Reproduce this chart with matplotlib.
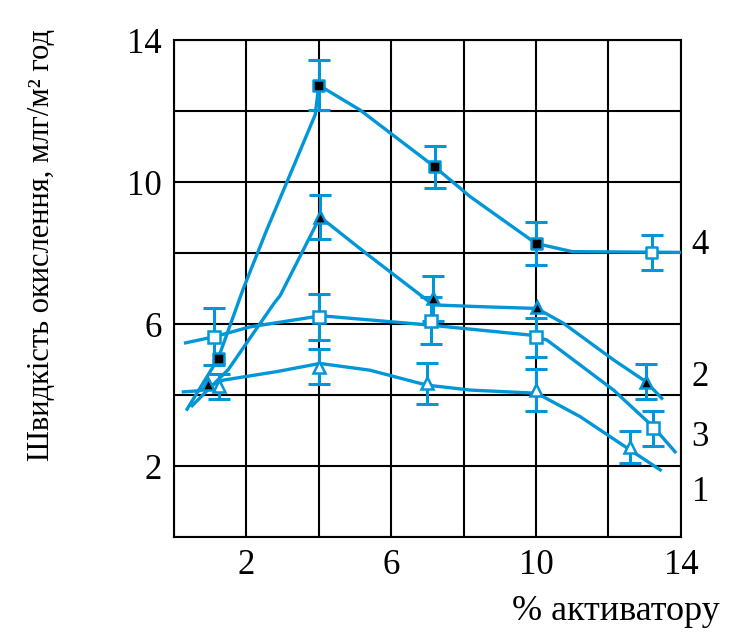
import numpy as np
import matplotlib.pyplot as plt

# measured points: % активатору vs швидкість окислення, with error half-widths
# curve 1 - open triangles
x1 = [1.25, 4.0, 7.0, 10.0, 12.6]
y1 = [4.25, 4.8, 4.33, 4.14, 2.54]
e1 = [0.35, 0.5, 0.58, 0.6, 0.45]
# curve 2 - filled triangles
x2 = [0.95, 4.03, 7.16, 10.02, 13.03]
y2 = [4.3, 9.02, 6.72, 6.49, 4.38]
e2 = [np.nan, 0.63, 0.63, np.nan, 0.5]
# curve 3 - open squares
x3 = [1.1, 4.0, 7.1, 10.0, 13.24]
y3 = [5.64, 6.2, 6.09, 5.63, 3.06]
e3 = [0.8, 0.65, 0.66, 0.55, 0.5]
# curve 4 - filled squares (last one open)
x4 = [1.22, 4.0, 7.2, 10.0, 13.2]
y4 = [5.03, 12.73, 10.43, 8.27, 8.02]
e4 = [np.nan, 0.7, 0.6, 0.6, 0.5]
open4 = [False, False, False, False, True]

# hand-drawn fit lines
c1x = [0.26, 0.7, 1.36, 2.84, 4.03, 5.41, 6.98, 8.18, 10.02, 11.22, 12.6, 13.43]
c1y = [4.09, 4.12, 4.42, 4.66, 4.89, 4.7, 4.28, 4.14, 4.05, 3.39, 2.45, 1.89]
c2x = [0.5, 1.5, 2.76, 2.93, 3.85, 4.03, 5.37, 7.16, 8.45, 10.02, 10.76, 12.14, 13.03, 13.47]
c2y = [3.7, 4.72, 6.58, 6.8, 8.65, 9.02, 7.94, 6.54, 6.49, 6.44, 6.02, 4.99, 4.38, 3.91]
c3x = [0.32, 1.1, 2.1, 3.85, 4.1, 7.07, 9.83, 10.3, 12.14, 13.24, 13.84]
c3y = [5.47, 5.64, 5.92, 6.2, 6.23, 5.97, 5.69, 5.55, 4.14, 3.1, 2.4]
c4x = [0.36, 1.22, 1.9, 2.56, 3.23, 3.9, 4.0, 5.14, 7.2, 8.18, 10.0, 11.0, 14.0]
c4y = [3.6, 5.03, 6.96, 8.65, 10.27, 11.9, 12.73, 12.03, 10.43, 9.59, 8.27, 8.04, 8.02]

curve_labels = ["1", "2", "3", "4"]
label_y = [1.24, 4.48, 2.79, 8.2]

blue = "#0096d8"
serif = ["Liberation Serif", "DejaVu Serif"]
plt.rcParams["font.family"] = serif

fig = plt.figure(figsize=(7.29, 6.37), dpi=100)
ax = fig.add_axes([0.2387, 0.157, 0.6953, 0.78])

for cx, cy in [(c1x, c1y), (c2x, c2y), (c3x, c3y), (c4x, c4y)]:
    ax.plot(cx, cy, color=blue, lw=2.4, zorder=3)

for xs, ys, es in [(x1, y1, e1), (x2, y2, e2), (x3, y3, e3), (x4, y4, e4)]:
    ax.errorbar(xs, ys, yerr=es, fmt="none", ecolor=blue, elinewidth=2.2,
                capsize=8, capthick=2.2, zorder=4)

ax.plot(x1, y1, ls="none", marker="^", ms=9, mfc="white", mec=blue, mew=1.8, zorder=5)
ax.plot(x2, y2, ls="none", marker="^", ms=9, mfc="black", mec=blue, mew=1.8, zorder=5)
ax.plot(x3, y3, ls="none", marker="s", ms=8, mfc="white", mec=blue, mew=1.8, zorder=5)
fc4 = ["white" if o else "black" for o in open4]
ax.scatter(x4, y4, marker="s", s=64, facecolors=fc4, edgecolors=blue, linewidths=1.8, zorder=5)

for lab, ly in zip(curve_labels, label_y):
    ax.text(14.3, ly, lab, fontsize=25, va="center", ha="left", clip_on=False)

ax.set_xlim(0, 14)
ax.set_ylim(0, 14)
ax.set_xticks(np.arange(0, 15, 2))
ax.set_yticks(np.arange(0, 15, 2))
ax.set_xticklabels(["", "2", "", "6", "", "10", "", "14"])
ax.set_yticklabels(["", "2", "", "6", "", "10", "", "14"])
ax.tick_params(length=0, labelsize=25, pad=9)
ax.grid(True, color="black", lw=1.5)
ax.set_axisbelow(True)
for s in ax.spines.values():
    s.set_linewidth(1.5)

fig.text(0.845, 0.04, "% активатору", fontsize=26, ha="center", va="center")
fig.text(0.057, 0.615, "Швидкість окислення, млг/м² год", fontsize=22,
         rotation=90, ha="center", va="center")

fig.savefig("out.png", dpi=100)
